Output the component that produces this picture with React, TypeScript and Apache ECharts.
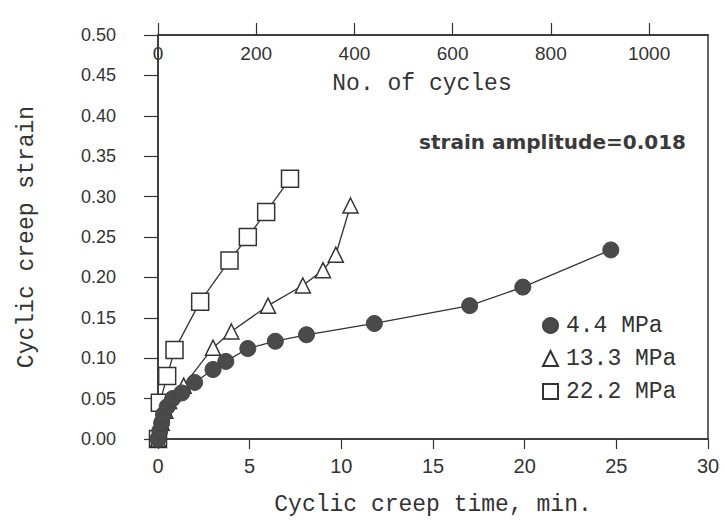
import React, { useEffect, useRef } from "react";
import * as echarts from "echarts";

const time44 = [0, 0.1, 0.2, 0.3, 0.5, 0.8, 1.3, 2.0, 3.0, 3.7, 4.9, 6.4, 8.1, 11.8, 17.0, 19.9, 24.7];
const strain44 = [0, 0.01, 0.02, 0.03, 0.04, 0.05, 0.057, 0.07, 0.086, 0.096, 0.112, 0.121, 0.129, 0.143, 0.165, 0.188, 0.234];

const time133 = [0, 0.2, 0.4, 0.6, 1.4, 3.0, 4.0, 6.0, 7.9, 9.0, 9.7, 10.5];
const strain133 = [0, 0.02, 0.035, 0.047, 0.066, 0.113, 0.133, 0.165, 0.19, 0.209, 0.228, 0.289];

const time222 = [0, 0.1, 0.5, 0.9, 2.3, 3.9, 4.9, 5.9, 7.2];
const strain222 = [0, 0.045, 0.078, 0.11, 0.17, 0.221, 0.25, 0.281, 0.322];

const seriesNames = ["4.4 MPa", "13.3 MPa", "22.2 MPa"];
const annotation = "strain amplitude=0.018";
const topAxisTitle = "No. of cycles";

const INK = "#333";
const MONO = "'Liberation Mono', 'DejaVu Sans Mono', monospace";
const SANS = "'Liberation Sans', Arial, sans-serif";

function pairs(xs: number[], ys: number[]) {
  return xs.map((x, i) => [x, ys[i]]);
}

export default function App() {
  const ref = useRef<HTMLDivElement>(null);
  useEffect(() => {
    if (!ref.current) return;
    const chart = echarts.init(ref.current, undefined, { renderer: "svg" });
    chart.setOption({
      animation: false,
      backgroundColor: "#fff",
      grid: {
        left: 158,
        right: 16,
        top: 35,
        bottom: 85,
        show: true,
        borderColor: INK,
        borderWidth: 1.5,
        backgroundColor: "transparent",
      },
      legend: {
        orient: "vertical",
        left: 537,
        top: 309,
        itemWidth: 15,
        itemHeight: 15,
        itemGap: 10,
        textStyle: { fontFamily: MONO, fontSize: 23, color: INK, padding: [0, 0, 0, 3] },
        data: [
          { name: seriesNames[0], icon: "circle" },
          { name: seriesNames[1], icon: "triangle" },
          { name: seriesNames[2], icon: "rect" },
        ],
      },
      xAxis: [
        {
          type: "value",
          position: "bottom",
          min: 0,
          max: 30,
          interval: 5,
          name: "Cyclic creep time, min.",
          nameLocation: "middle",
          nameGap: 54,
          nameTextStyle: { fontFamily: MONO, fontSize: 23, color: INK },
          axisLine: { show: true, lineStyle: { color: INK, width: 1.5 } },
          axisTick: { show: true, inside: false, length: 10, lineStyle: { color: INK, width: 1.2 } },
          axisLabel: { fontFamily: SANS, fontSize: 20, color: INK, margin: 17 },
          splitLine: { show: false },
        },
        {
          type: "value",
          position: "top",
          min: 0,
          max: 1120,
          interval: 200,
          axisLine: { show: true, lineStyle: { color: INK, width: 1.5 } },
          axisTick: { show: true, inside: false, length: 12, lineStyle: { color: INK, width: 1.2 } },
          axisLabel: {
            inside: true,
            fontFamily: SANS,
            fontSize: 19,
            color: INK,
            margin: 9,
            showMaxLabel: false,
            formatter: (v: number) => String(v),
          },
          splitLine: { show: false },
        },
      ],
      yAxis: {
        type: "value",
        min: 0,
        max: 0.5,
        interval: 0.05,
        name: "Cyclic creep strain",
        nameLocation: "middle",
        nameGap: 120,
        nameTextStyle: { fontFamily: MONO, fontSize: 23, color: INK },
        axisLine: { show: true, lineStyle: { color: INK, width: 1.5 } },
        axisTick: { show: true, inside: false, length: 14, lineStyle: { color: INK, width: 1.2 } },
        axisLabel: {
          fontFamily: SANS,
          fontSize: 18,
          color: INK,
          margin: 42,
          formatter: (v: number) => v.toFixed(2),
        },
        splitLine: { show: false },
      },
      graphic: [
        {
          type: "text",
          x: 422,
          y: 84,
          style: {
            text: topAxisTitle,
            fontFamily: MONO,
            fontSize: 23,
            fill: INK,
            textAlign: "center",
            textVerticalAlign: "middle",
          },
        },
        {
          type: "text",
          right: 38,
          top: 132,
          style: {
            text: annotation,
            fontFamily: "'DejaVu Sans', sans-serif",
            fontWeight: "bold",
            fontSize: 20,
            fill: "#3a3a3a",
          },
        },
      ],
      series: [
        {
          name: seriesNames[2],
          type: "line",
          xAxisIndex: 0,
          data: pairs(time222, strain222),
          symbol: "rect",
          symbolSize: 17,
          lineStyle: { color: INK, width: 1.3 },
          itemStyle: { color: "#fff", borderColor: INK, borderWidth: 1.5 },
          z: 3,
        },
        {
          name: seriesNames[1],
          type: "line",
          xAxisIndex: 0,
          data: pairs(time133, strain133),
          symbol: "triangle",
          symbolSize: 15,
          lineStyle: { color: INK, width: 1.3 },
          itemStyle: { color: "#fff", borderColor: INK, borderWidth: 1.5 },
          z: 4,
        },
        {
          name: seriesNames[0],
          type: "line",
          xAxisIndex: 0,
          data: pairs(time44, strain44),
          symbol: "circle",
          symbolSize: 16,
          lineStyle: { color: INK, width: 1.3 },
          itemStyle: { color: "#4a4a4a", borderColor: "#444", borderWidth: 1 },
          z: 5,
        },
      ],
    });
    return () => chart.dispose();
  }, []);
  return (
    <div
      ref={ref}
      style={{ position: "absolute", left: 0, top: 0, width: 724, height: 524 }}
    />
  );
}
